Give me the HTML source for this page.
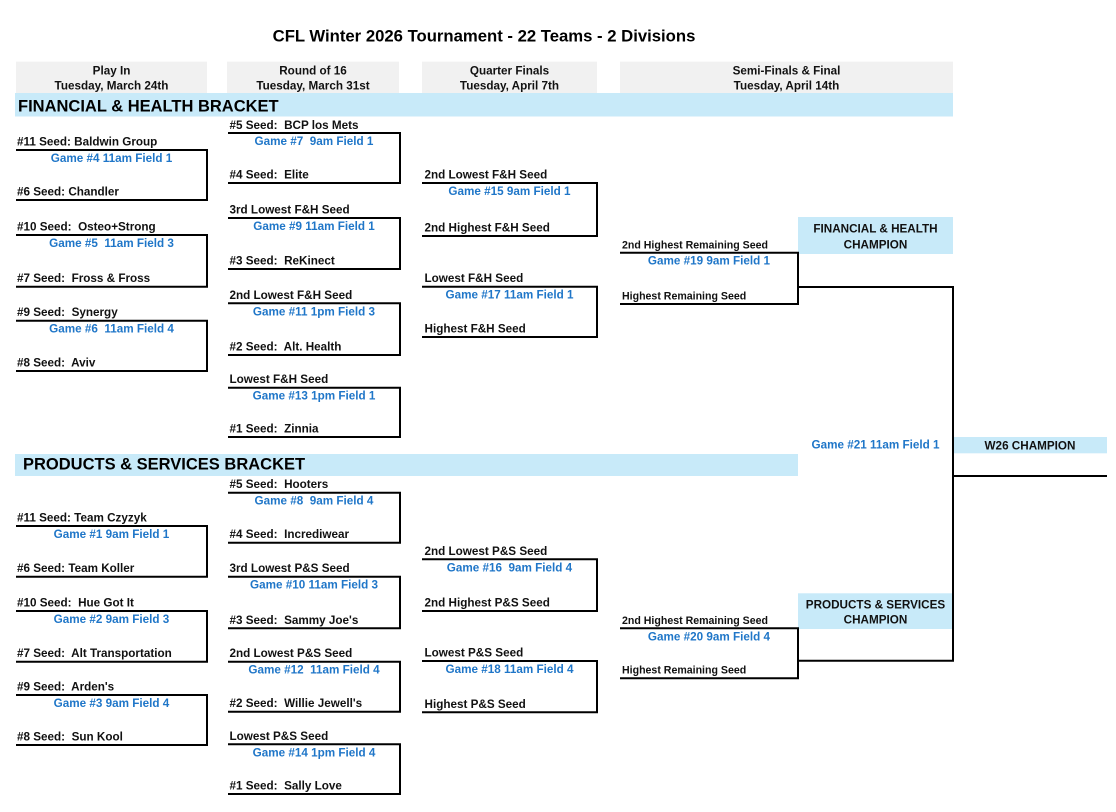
<!DOCTYPE html>
<html>
<head>
<meta charset="utf-8">
<style>
  html,body{margin:0;padding:0;background:#fff;}
  body{width:1116px;height:812px;overflow:hidden;}
  svg{display:block;}
  text{font-family:"Liberation Sans",Arial,sans-serif;font-weight:bold;white-space:pre;}
  .t{font-size:11.7px;fill:#111;}
  .s{font-size:10.6px;fill:#111;}
  .g{font-size:11.7px;fill:#1f76c8;text-anchor:middle;}
  .h{font-size:11.7px;fill:#111;text-anchor:middle;}
  .b{font-size:16.5px;fill:#000;}
  .ln{fill:none;stroke:#000;stroke-width:2;stroke-linejoin:miter;}
</style>
</head>
<body>
<svg width="1116" height="812" viewBox="0 0 1116 812" xmlns="http://www.w3.org/2000/svg" xml:space="preserve">
  <!-- Title -->
  <text x="484" y="41.7" style="font-size:16.7px;fill:#000;text-anchor:middle;">CFL Winter 2026 Tournament - 22 Teams - 2 Divisions</text>

  <!-- Header boxes -->
  <rect x="16" y="61.7" width="191" height="31.5" fill="#f1f1f1"/>
  <rect x="227" y="61.7" width="172" height="31.5" fill="#f1f1f1"/>
  <rect x="422" y="61.7" width="175" height="31.5" fill="#f1f1f1"/>
  <rect x="620" y="61.7" width="333" height="31.5" fill="#f1f1f1"/>
  <text class="h" x="111.5" y="74.7">Play In</text>
  <text class="h" x="111.5" y="89.7">Tuesday, March 24th</text>
  <text class="h" x="313" y="74.7">Round of 16</text>
  <text class="h" x="313" y="89.7">Tuesday, March 31st</text>
  <text class="h" x="509.5" y="74.7">Quarter Finals</text>
  <text class="h" x="509.5" y="89.7">Tuesday, April 7th</text>
  <text class="h" x="786.5" y="74.7">Semi-Finals &amp; Final</text>
  <text class="h" x="786.5" y="89.7">Tuesday, April 14th</text>

  <!-- Bracket bands -->
  <rect x="15" y="93" width="938" height="23.5" fill="#c8eaf9"/>
  <text class="b" x="18" y="111.7">FINANCIAL &amp; HEALTH BRACKET</text>
  <rect x="15" y="454" width="783" height="22" fill="#c8eaf9"/>
  <text class="b" x="23" y="469.5">PRODUCTS &amp; SERVICES BRACKET</text>

  <!-- Champion boxes -->
  <rect x="798" y="217" width="155" height="37" fill="#c8eaf9"/>
  <text class="h" x="875.5" y="232.3">FINANCIAL &amp; HEALTH</text>
  <text class="h" x="875.5" y="248.3">CHAMPION</text>
  <rect x="798" y="593.3" width="155" height="35.7" fill="#c8eaf9"/>
  <text class="h" x="875.5" y="608.3">PRODUCTS &amp; SERVICES</text>
  <text class="h" x="875.5" y="623.3">CHAMPION</text>
  <rect x="954" y="437" width="153" height="16.3" fill="#c8eaf9"/>
  <text class="h" x="1030" y="449.3">W26 CHAMPION</text>
  <text class="g" x="875.5" y="448.5">Game #21 11am Field 1</text>

  <!-- ===== PLAY IN (x 16-207) ===== -->
  <path class="ln" d="M16 150 H207 V200 H16"/>
  <text class="t" x="17" y="145.3">#11 Seed: Baldwin Group</text>
  <text class="g" x="111.5" y="161.8">Game #4 11am Field 1</text>
  <text class="t" x="17" y="195.5">#6 Seed: Chandler</text>

  <path class="ln" d="M16 235 H207 V286.7 H16"/>
  <text class="t" x="17" y="230.5">#10 Seed:  Osteo+Strong</text>
  <text class="g" x="111.5" y="246.8">Game #5  11am Field 3</text>
  <text class="t" x="17" y="282.2">#7 Seed:  Fross &amp; Fross</text>

  <path class="ln" d="M16 320.7 H207 V371 H16"/>
  <text class="t" x="17" y="316.2">#9 Seed:  Synergy</text>
  <text class="g" x="111.5" y="332.5">Game #6  11am Field 4</text>
  <text class="t" x="17" y="366.5">#8 Seed:  Aviv</text>

  <path class="ln" d="M16 526 H207 V576.7 H16"/>
  <text class="t" x="17" y="521.5">#11 Seed: Team Czyzyk</text>
  <text class="g" x="111.5" y="538">Game #1 9am Field 1</text>
  <text class="t" x="17" y="572.2">#6 Seed: Team Koller</text>

  <path class="ln" d="M16 611 H207 V661.7 H16"/>
  <text class="t" x="17" y="606.5">#10 Seed:  Hue Got It</text>
  <text class="g" x="111.5" y="623">Game #2 9am Field 3</text>
  <text class="t" x="17" y="657.2">#7 Seed:  Alt Transportation</text>

  <path class="ln" d="M16 695 H207 V745 H16"/>
  <text class="t" x="17" y="690.5">#9 Seed:  Arden's</text>
  <text class="g" x="111.5" y="707">Game #3 9am Field 4</text>
  <text class="t" x="17" y="740.5">#8 Seed:  Sun Kool</text>

  <!-- ===== ROUND OF 16 (x 228-400) ===== -->
  <path class="ln" d="M228 133 H400 V183 H228"/>
  <text class="t" x="229.5" y="128.8">#5 Seed:  BCP los Mets</text>
  <text class="g" x="314" y="145">Game #7  9am Field 1</text>
  <text class="t" x="229.5" y="178.5">#4 Seed:  Elite</text>

  <path class="ln" d="M228 218 H400 V269 H228"/>
  <text class="t" x="229.5" y="213.5">3rd Lowest F&amp;H Seed</text>
  <text class="g" x="314" y="230">Game #9 11am Field 1</text>
  <text class="t" x="229.5" y="264.5">#3 Seed:  ReKinect</text>

  <path class="ln" d="M228 303.3 H400 V355 H228"/>
  <text class="t" x="229.5" y="298.8">2nd Lowest F&amp;H Seed</text>
  <text class="g" x="314" y="315.3">Game #11 1pm Field 3</text>
  <text class="t" x="229.5" y="350.5">#2 Seed:  Alt. Health</text>

  <path class="ln" d="M228 387.7 H400 V437 H228"/>
  <text class="t" x="229.5" y="383.2">Lowest F&amp;H Seed</text>
  <text class="g" x="314" y="399.7">Game #13 1pm Field 1</text>
  <text class="t" x="229.5" y="432.5">#1 Seed:  Zinnia</text>

  <path class="ln" d="M228 492.7 H400 V542.7 H228"/>
  <text class="t" x="229.5" y="488.2">#5 Seed:  Hooters</text>
  <text class="g" x="314" y="504.7">Game #8  9am Field 4</text>
  <text class="t" x="229.5" y="538.2">#4 Seed:  Incrediwear</text>

  <path class="ln" d="M228 576.7 H400 V628.3 H228"/>
  <text class="t" x="229.5" y="572.2">3rd Lowest P&amp;S Seed</text>
  <text class="g" x="314" y="588.7">Game #10 11am Field 3</text>
  <text class="t" x="229.5" y="623.8">#3 Seed:  Sammy Joe's</text>

  <path class="ln" d="M228 661.7 H400 V711.7 H228"/>
  <text class="t" x="229.5" y="657.2">2nd Lowest P&amp;S Seed</text>
  <text class="g" x="314" y="673.7">Game #12  11am Field 4</text>
  <text class="t" x="229.5" y="707.2">#2 Seed:  Willie Jewell's</text>

  <path class="ln" d="M228 744.3 H400 V794 H228"/>
  <text class="t" x="229.5" y="739.8">Lowest P&amp;S Seed</text>
  <text class="g" x="314" y="756.3">Game #14 1pm Field 4</text>
  <text class="t" x="229.5" y="789.5">#1 Seed:  Sally Love</text>

  <!-- ===== QUARTER FINALS (x 422-597) ===== -->
  <path class="ln" d="M422 183 H597 V236 H422"/>
  <text class="t" x="424.5" y="178.5">2nd Lowest F&amp;H Seed</text>
  <text class="g" x="509.5" y="195">Game #15 9am Field 1</text>
  <text class="t" x="424.5" y="231.5">2nd Highest F&amp;H Seed</text>

  <path class="ln" d="M422 286.7 H597 V337 H422"/>
  <text class="t" x="424.5" y="282.2">Lowest F&amp;H Seed</text>
  <text class="g" x="509.5" y="298.7">Game #17 11am Field 1</text>
  <text class="t" x="424.5" y="332.5">Highest F&amp;H Seed</text>

  <path class="ln" d="M422 559.3 H597 V611 H422"/>
  <text class="t" x="424.5" y="554.8">2nd Lowest P&amp;S Seed</text>
  <text class="g" x="509.5" y="571.3">Game #16  9am Field 4</text>
  <text class="t" x="424.5" y="606.5">2nd Highest P&amp;S Seed</text>

  <path class="ln" d="M422 661 H597 V712.3 H422"/>
  <text class="t" x="424.5" y="656.5">Lowest P&amp;S Seed</text>
  <text class="g" x="509.5" y="673">Game #18 11am Field 4</text>
  <text class="t" x="424.5" y="707.8">Highest P&amp;S Seed</text>

  <!-- ===== SEMI FINALS (x 620-798) ===== -->
  <path class="ln" d="M620 252.7 H798 V304 H620"/>
  <text class="s" x="622" y="248.3">2nd Highest Remaining Seed</text>
  <text class="g" x="709" y="264.7">Game #19 9am Field 1</text>
  <text class="s" x="622" y="299.3">Highest Remaining Seed</text>

  <path class="ln" d="M620 628.3 H798 V678.3 H620"/>
  <text class="s" x="622" y="624">2nd Highest Remaining Seed</text>
  <text class="g" x="709" y="640.3">Game #20 9am Field 4</text>
  <text class="s" x="622" y="673.5">Highest Remaining Seed</text>

  <!-- ===== FINAL ===== -->
  <path class="ln" d="M798 287 H953 V660.7 H798"/>
  <path class="ln" d="M953 476 H1107"/>
</svg>
</body>
</html>
